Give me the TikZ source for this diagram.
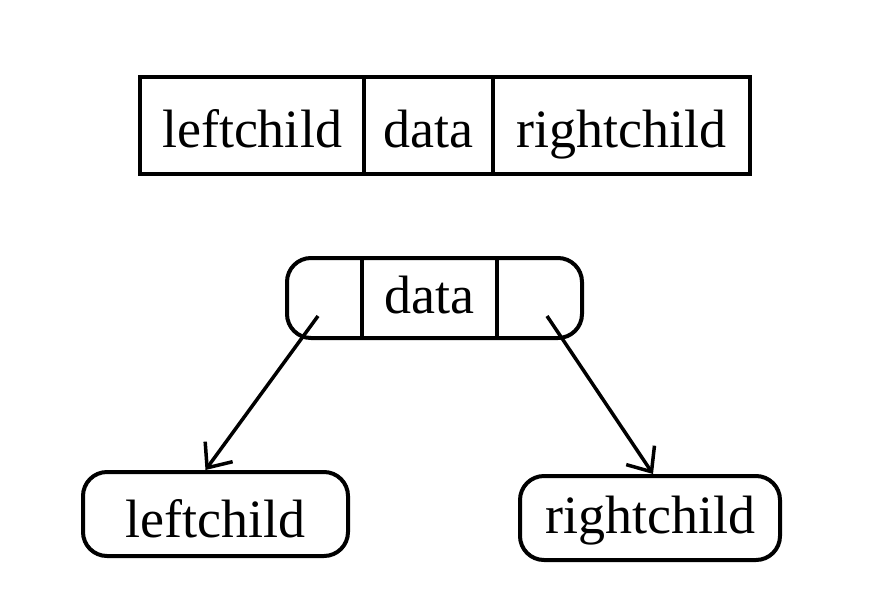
\documentclass[tikz,border=0pt]{standalone}
\usepackage{fontspec}
\setmainfont{Liberation Serif}
\usetikzlibrary{arrows.meta}
\begin{document}
\begin{tikzpicture}[x=1pt,y=-1pt,
  txt/.style={inner sep=0pt, text height=43pt, text depth=0pt, font=\fontsize{54}{60}\selectfont},
  cell/.style={txt, draw, line width=4pt, minimum height=97pt},
  rbox/.style={txt, draw, line width=4pt, rounded corners=24pt, minimum height=82pt},
  link/.style={line width=3.5pt, -{Straight Barb[length=20pt,width=34pt,line width=3.5pt]}}
]
\useasboundingbox (0,0) rectangle (888,608);
% top record
\node[cell, minimum width=224pt] (tl) at (252,125.5) {leftchild};
\node[cell, minimum width=129pt] (td) at (428.5,125.5) {data};
\node[cell, minimum width=257pt] (tr) at (621.5,125.5) {rightchild};
% middle node
\node[rbox, minimum width=295pt, minimum height=80pt] (mid) at (434.5,298) {};
\node[txt, text height=30pt, minimum width=135pt, minimum height=80pt] (md) at (429.5,298) {data};
\draw[line width=4pt] (md.north west) -- (md.south west);
\draw[line width=4pt] (md.north east) -- (md.south east);
% children
\node[rbox, text height=46pt, minimum width=265pt, minimum height=84pt] (lc) at (215.5,514) {leftchild};
\node[rbox, text height=30pt, minimum width=260pt, minimum height=84pt] (rc) at (650,518) {rightchild};
% pointers
\coordinate (lp) at (318,316);
\coordinate (rp) at (547,316);
\draw[link] (lp) -- ([xshift=-10pt]lc.north);
\draw[link] (rp) -- ([xshift=3pt]rc.north);
\end{tikzpicture}
\end{document}
